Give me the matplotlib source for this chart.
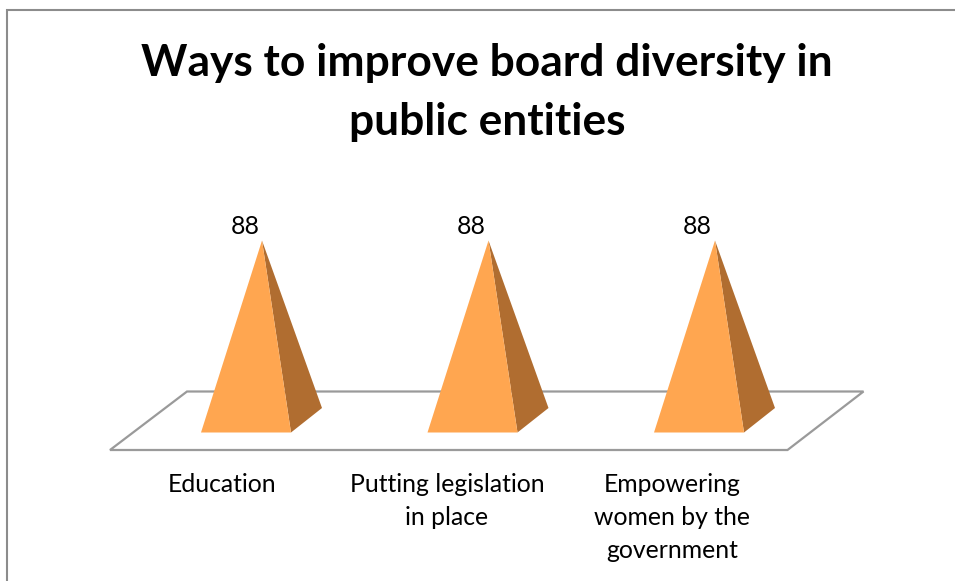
import matplotlib
matplotlib.use("Agg")
import matplotlib.pyplot as plt
from matplotlib.patches import Polygon

title = "Ways to improve board diversity in\npublic entities"
categories = ["Education", "Putting legislation\nin place", "Empowering\nwomen by the\ngovernment"]
values = [88, 88, 88]

W, H = 955, 581
PX_PER_CATEGORY = 226.5
PX_PER_VALUE = 192.0 / 88
ORIGIN_X, ORIGIN_Y = 246.0, 432.5

plt.rcParams["font.family"] = ["Lato", "DejaVu Sans"]
fig = plt.figure(figsize=(W / 100, H / 100), dpi=100, facecolor="white")
ax = fig.add_axes([0, 0, 1, 1])
ax.set_xlim(-ORIGIN_X / PX_PER_CATEGORY, (W - ORIGIN_X) / PX_PER_CATEGORY)
ax.set_ylim((ORIGIN_Y - H) / PX_PER_VALUE, ORIGIN_Y / PX_PER_VALUE)
ax.axis("off")


def dx(px):
    return px / PX_PER_CATEGORY


def dy(px):
    return px / PX_PER_VALUE


# outer chart frame: left and top edges only reach the image
ax.plot([dx(7 - ORIGIN_X), dx(7 - ORIGIN_X), dx(W - ORIGIN_X)],
        [dy(ORIGIN_Y - H), dy(ORIGIN_Y - 10), dy(ORIGIN_Y - 10)],
        color="#8c8c8c", lw=1.5, solid_joinstyle="miter", zorder=1)

# 3D floor of the plot
floor = [(110, 450), (787.5, 450), (863.5, 391.5), (187, 391.5)]
ax.add_patch(Polygon([(dx(x - ORIGIN_X), dy(ORIGIN_Y - y)) for x, y in floor],
                     closed=True, fill=False, edgecolor="#9a9a9a", lw=1.6,
                     joinstyle="miter", zorder=2))

# pyramids: apex height comes from the value, footprint is fixed
for i, v in enumerate(values):
    front = [(i - dx(45), 0), (i + dx(45), 0), (i + dx(16), v)]
    side = [(i + dx(45), 0), (i + dx(76), dy(24.5)), (i + dx(16), v)]
    ax.add_patch(Polygon(side, closed=True, facecolor="#B06D30", edgecolor="none", zorder=3))
    ax.add_patch(Polygon(front, closed=True, facecolor="#FFA650", edgecolor="none", zorder=4))
    ax.text(i - dx(1) * (1 + i * 0.6), v + dy(14.5), str(v), ha="center", va="center",
            fontsize=17.8, color="black", zorder=5)
    ax.text(i - dx(24) - dx(1.5) * i, dy(ORIGIN_Y - 473), categories[i], ha="center", va="top",
            fontsize=17.8, color="black", linespacing=1.53, zorder=5)

ax.text(dx(487 - ORIGIN_X), dy(ORIGIN_Y - 92.5), title, ha="center", va="center",
        fontsize=31.9, fontweight="bold", color="black", linespacing=1.55, zorder=5)

fig.savefig("out.png", dpi=100, facecolor="white")
